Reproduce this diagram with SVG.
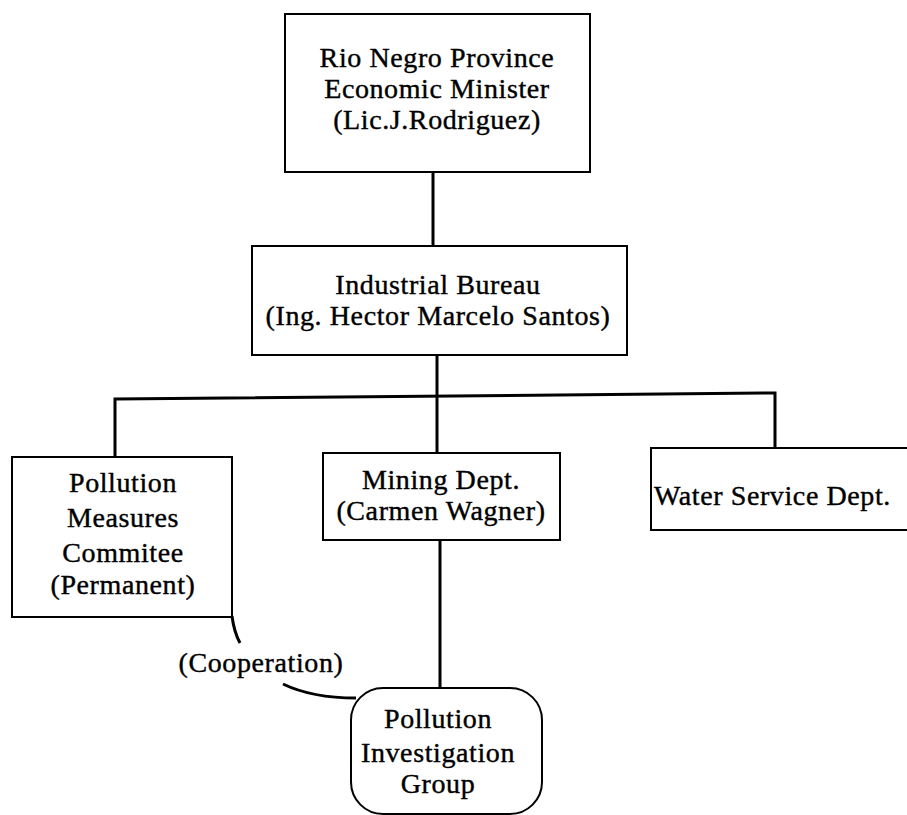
<svg xmlns="http://www.w3.org/2000/svg" width="907" height="815" viewBox="0 0 907 815">
<style>
.box{fill:#fff;stroke:#000;stroke-width:2}
.con{fill:none;stroke:#000;stroke-width:3}
.t{font-family:"Liberation Serif","Times New Roman",serif;font-size:28px;fill:#000;stroke:#000;stroke-width:0.4;text-anchor:middle;letter-spacing:0.6px}
</style>
<rect width="907" height="815" fill="#fff"/>
<g id="connectors">
<line class="con" x1="433" y1="172" x2="433" y2="246"/>
<line class="con" x1="437" y1="355" x2="437" y2="453"/>
<polyline class="con" points="115,457 115,399 775,393 775,448"/>
<line class="con" x1="440" y1="540" x2="440" y2="688"/>
<path class="con" stroke-width="2.5" d="M232,616 Q234,632 240,643"/>
<path class="con" stroke-width="2.5" d="M283,684 Q312,698 356,698"/>
</g>
<g id="minister">
<rect class="box" x="285" y="14" width="305" height="158"/>
<text class="t" x="437" y="67">Rio Negro Province</text>
<text class="t" x="437" y="98">Economic Minister</text>
<text class="t" x="437" y="129">(Lic.J.Rodriguez)</text>
</g>
<g id="bureau">
<rect class="box" x="252" y="246" width="375" height="109"/>
<text class="t" x="438" y="294">Industrial Bureau</text>
<text class="t" x="438" y="325">(Ing. Hector Marcelo Santos)</text>
</g>
<g id="pollution-measures">
<rect class="box" x="12" y="457" width="220" height="160"/>
<text class="t" x="123" y="492">Pollution</text>
<text class="t" x="123" y="527">Measures</text>
<text class="t" x="123" y="562">Commitee</text>
<text class="t" x="123" y="594">(Permanent)</text>
</g>
<g id="mining">
<rect class="box" x="323" y="453" width="237" height="87"/>
<text class="t" x="441" y="489">Mining  Dept.</text>
<text class="t" x="441" y="520">(Carmen Wagner)</text>
</g>
<g id="water">
<rect class="box" x="651" y="448" width="270" height="82"/>
<text class="t" x="654" y="505" style="text-anchor:start">Water Service Dept.</text>
</g>
<g id="cooperation">
<text class="t" x="261" y="672">(Cooperation)</text>
</g>
<g id="investigation-group">
<rect class="box" x="351" y="688" width="191" height="126" rx="32" ry="32"/>
<text class="t" x="438" y="728">Pollution</text>
<text class="t" x="438" y="762">Investigation</text>
<text class="t" x="438" y="793">Group</text>
</g>
</svg>
